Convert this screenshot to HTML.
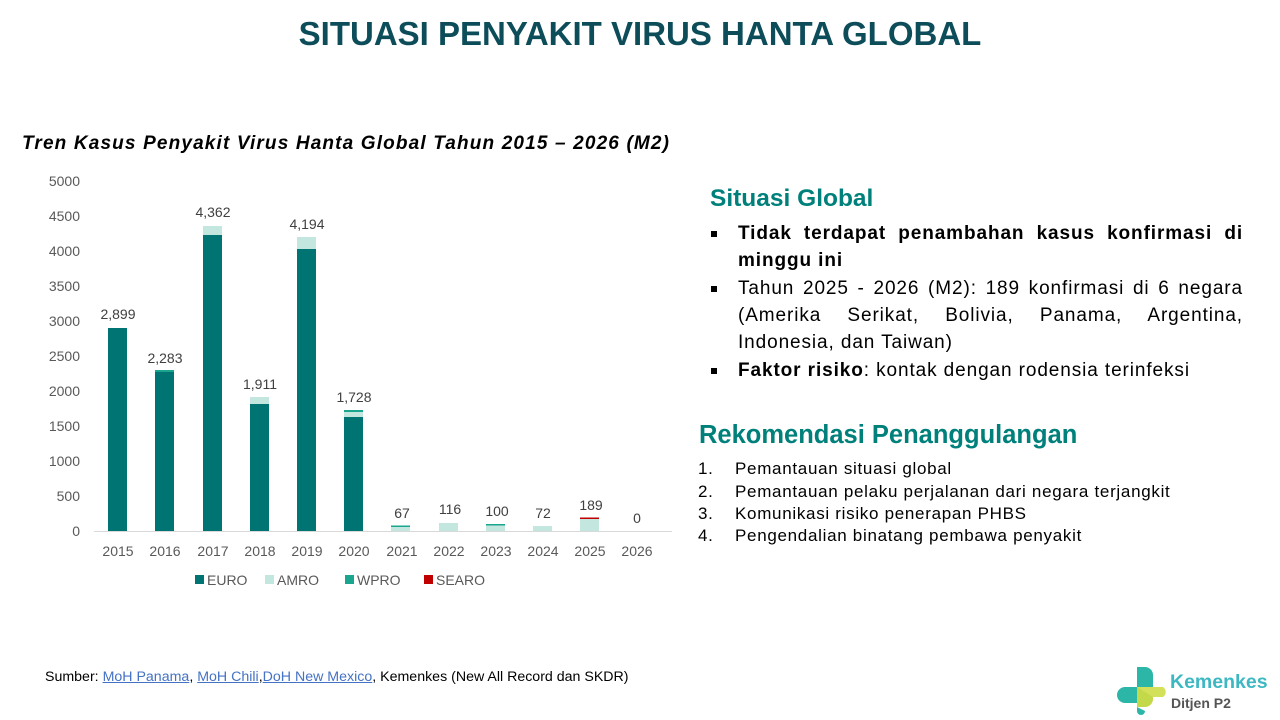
<!DOCTYPE html>
<html><head><meta charset="utf-8">
<style>
body{margin:0;width:1280px;height:720px;background:#fff;position:relative;overflow:hidden;font-family:"Liberation Sans",sans-serif;}
.abs{position:absolute;}
.t{white-space:nowrap;}
.j{text-align:justify;text-align-last:justify;}
.bl{font-size:19px;letter-spacing:0.9px;color:#000;width:505px;left:738px;height:27px;line-height:27px;}
.sq{position:absolute;left:-27px;top:11px;width:6px;height:6px;background:#000;}
.li{font-size:17px;letter-spacing:0.7px;color:#000;left:735px;line-height:22px;}
.ln{position:absolute;left:-37px;}
a{color:#4472c4;text-decoration:underline;}
</style></head><body>
<div class="abs t" style="left:0;width:1280px;text-align:center;top:15px;font-size:33px;font-weight:bold;color:#0d4d5a;">SITUASI PENYAKIT VIRUS HANTA GLOBAL</div>
<div class="abs t" style="left:22px;top:133px;font-size:19px;letter-spacing:1.15px;font-weight:bold;font-style:italic;color:#000;">Tren Kasus Penyakit Virus Hanta Global Tahun 2015 – 2026 (M2)</div>

<svg class="abs" style="left:0;top:0" width="690" height="600" font-family="Liberation Sans, sans-serif">
<g font-size="14" fill="#595959" text-anchor="end">
<text x="80" y="186">5000</text><text x="80" y="221">4500</text><text x="80" y="256">4000</text><text x="80" y="291">3500</text><text x="80" y="326">3000</text><text x="80" y="361">2500</text><text x="80" y="396">2000</text><text x="80" y="431">1500</text><text x="80" y="466">1000</text><text x="80" y="501">500</text><text x="80" y="536">0</text>
</g>
<line x1="94" y1="531.5" x2="672" y2="531.5" stroke="#d9d9d9" stroke-width="1"/>
<g fill="#007373">
<rect x="108" y="328" width="19" height="203"/>
<rect x="155" y="372" width="19" height="159"/>
<rect x="203" y="235" width="19" height="296"/>
<rect x="250" y="404" width="19" height="127"/>
<rect x="297" y="249" width="19" height="282"/>
<rect x="344" y="417" width="19" height="114"/>
</g>
<g fill="#c3e6df">
<rect x="203" y="226" width="19" height="9"/>
<rect x="250" y="397" width="19" height="7"/>
<rect x="297" y="237" width="19" height="12"/>
<rect x="344" y="412" width="19" height="5"/>
<rect x="391" y="527" width="19" height="4"/>
<rect x="439" y="523" width="19" height="8"/>
<rect x="486" y="525" width="19" height="6"/>
<rect x="533" y="526" width="19" height="5"/>
<rect x="580" y="519" width="19" height="12"/>
</g>
<g fill="#1aa58f">
<rect x="155" y="370" width="19" height="2"/>
<rect x="344" y="410" width="19" height="2"/>
<rect x="391" y="525.5" width="19" height="1.5"/>
<rect x="486" y="524" width="19" height="1.5"/>
</g>
<rect x="580" y="517.5" width="19" height="1.5" fill="#c00000"/>
<g font-size="14" fill="#404040" text-anchor="middle">
<text x="118" y="319">2,899</text><text x="165" y="363">2,283</text><text x="213" y="217">4,362</text><text x="260" y="389">1,911</text><text x="307" y="229">4,194</text><text x="354" y="402">1,728</text><text x="402" y="518">67</text><text x="450" y="514">116</text><text x="497" y="516">100</text><text x="543" y="518">72</text><text x="591" y="510">189</text><text x="637" y="523">0</text>
</g>
<g font-size="14" fill="#595959" text-anchor="middle">
<text x="118" y="556">2015</text><text x="165" y="556">2016</text><text x="213" y="556">2017</text><text x="260" y="556">2018</text><text x="307" y="556">2019</text><text x="354" y="556">2020</text><text x="402" y="556">2021</text><text x="449" y="556">2022</text><text x="496" y="556">2023</text><text x="543" y="556">2024</text><text x="590" y="556">2025</text><text x="637" y="556">2026</text>
</g>
<g font-size="14" fill="#595959">
<rect x="195" y="575" width="9" height="9" fill="#007373"/><text x="207" y="585">EURO</text>
<rect x="265" y="575" width="9" height="9" fill="#c3e6df"/><text x="277" y="585">AMRO</text>
<rect x="345" y="575" width="9" height="9" fill="#1aa58f"/><text x="357" y="585">WPRO</text>
<rect x="424" y="575" width="9" height="9" fill="#c00000"/><text x="436" y="585">SEARO</text>
</g>
</svg>

<div class="abs t" style="left:710px;top:185px;font-size:24.5px;font-weight:bold;color:#00807a;">Situasi Global</div>
<div class="abs bl j" style="top:220px;font-weight:bold;"><span class="sq"></span>Tidak terdapat penambahan kasus konfirmasi di</div>
<div class="abs bl" style="top:247px;font-weight:bold;">minggu ini</div>
<div class="abs bl j" style="top:275px;"><span class="sq"></span>Tahun 2025 - 2026 (M2): 189 konfirmasi di 6 negara</div>
<div class="abs bl j" style="top:302px;">(Amerika Serikat, Bolivia, Panama, Argentina,</div>
<div class="abs bl" style="top:329px;">Indonesia, dan Taiwan)</div>
<div class="abs bl" style="top:357px;"><span class="sq"></span><b>Faktor risiko</b>: kontak dengan rodensia terinfeksi</div>

<div class="abs t" style="left:699px;top:421px;font-size:25.5px;font-weight:bold;color:#00807a;">Rekomendasi Penanggulangan</div>
<div class="abs li t" style="top:458px;"><span class="ln">1.</span>Pemantauan situasi global</div>
<div class="abs li t" style="top:481px;"><span class="ln">2.</span>Pemantauan pelaku perjalanan dari negara terjangkit</div>
<div class="abs li t" style="top:503px;"><span class="ln">3.</span>Komunikasi risiko penerapan PHBS</div>
<div class="abs li t" style="top:525px;"><span class="ln">4.</span>Pengendalian binatang pembawa penyakit</div>

<div class="abs t" style="left:45px;top:669px;font-size:14.2px;color:#000;">Sumber: <a>MoH Panama</a>, <a>MoH Chili</a>,<a>DoH New Mexico</a>, Kemenkes (New All Record dan SKDR)</div>

<svg class="abs" style="left:1115px;top:665px" width="52" height="50">
<path d="M22 2 h8 a8 8 0 0 1 8 8 v12 h-16z" fill="#2bb6a8"/>
<path d="M38 22 v12 a8 8 0 0 1 -8 8 h-8 v-20z" fill="#c4d94a"/>
<path d="M22 22 h-12 a8 8 0 0 0 0 16 h12z" fill="#2bb6a8"/>
<path d="M22 22 h16 l10 0 a6 6 0 0 1 0 10 l-10 0z" fill="#d2e05a"/>
<path d="M22 42 v4 a4 4 0 0 0 8 0" fill="#2bb6a8"/>
</svg>
<div class="abs t" style="left:1170px;top:671px;font-size:19.5px;font-weight:bold;color:#3db8c2;">Kemenkes</div>
<div class="abs t" style="left:1171px;top:695px;font-size:14px;font-weight:bold;color:#555;">Ditjen P2</div>
</body></html>
